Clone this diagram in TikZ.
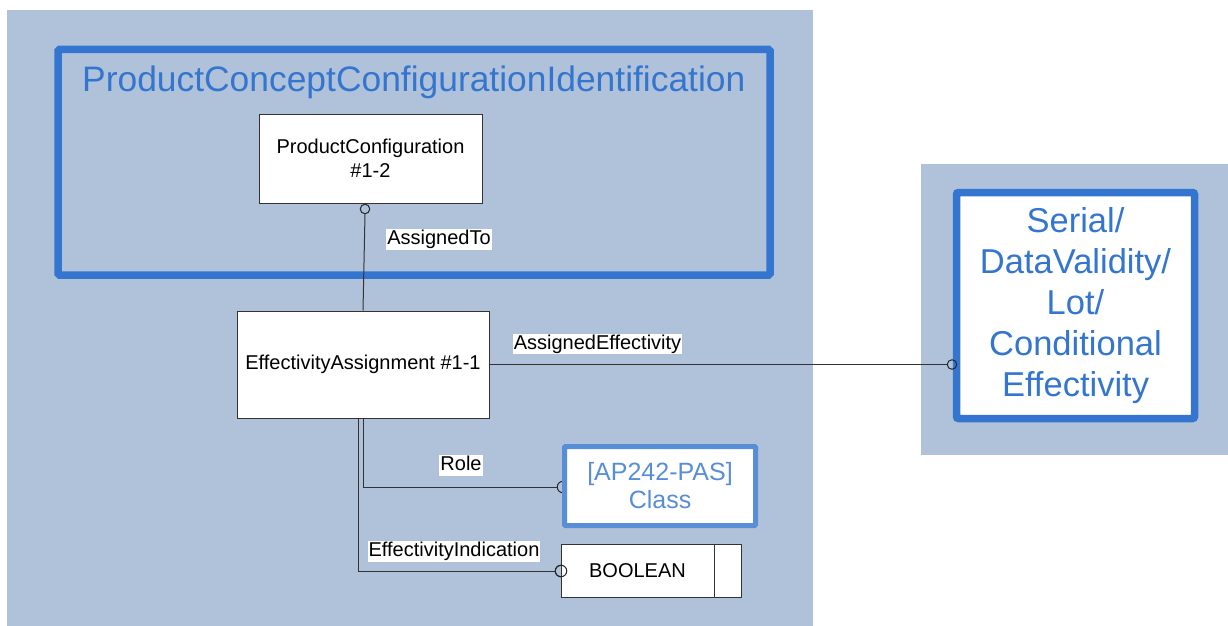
\documentclass[tikz,border=0pt]{standalone}
\usepackage{fontspec}
\setmainfont{Liberation Sans}
\definecolor{panelbg}{RGB}{176,194,218}
\definecolor{frameblue}{RGB}{52,118,207}
\definecolor{lightblue}{RGB}{88,141,216}
\begin{document}
\begin{tikzpicture}[x=1pt,y=-1pt,
  panel/.style={fill=panelbg,draw=none},
  bigframe/.style={draw=frameblue,line width=7.5pt,rounded corners=1.5pt},
  entity/.style={draw=black!80,line width=1pt,fill=white,align=center,inner sep=0pt,
    font=\fontsize{20}{24}\selectfont},
  apbox/.style={draw=lightblue,line width=5pt,fill=white,align=center,inner sep=0pt,
    text=lightblue,font=\fontsize{25}{28}\selectfont,rounded corners=1pt},
  effbox/.style={draw=frameblue,line width=7.5pt,fill=white,align=center,inner sep=0pt,
    text=frameblue,font=\fontsize{34.5}{41}\selectfont,rounded corners=2pt},
  lbl/.style={fill=white,inner xsep=1pt,inner ysep=0pt,text height=15.5pt,text depth=5pt,
    font=\fontsize{20}{24}\selectfont},
  conn/.style={draw=black!80,line width=1pt},
  ring/.style={circle,draw=black!85,line width=1pt,minimum size=9.5pt,inner sep=0pt},
  bigring/.style={ring,minimum size=11.5pt}]
\path[use as bounding box] (0,0) rectangle (1228,626);
% panels
\path[panel] (7,10) rectangle (813,626);
\path[panel] (921,164) rectangle (1228,455);
% PCCI frame
\draw[bigframe] (58,49.5) rectangle (770,275);
\node[anchor=base west,inner sep=0pt,text=frameblue,font=\fontsize{35.4}{42}\selectfont]
  (title) at (82,92) {ProductConceptConfigurationIdentification};
% entities
\node[entity,minimum width=223pt,minimum height=89pt] (pc) at (370.5,158.5)
  {ProductConfiguration\\\#1-2};
\node[entity,minimum width=252pt,minimum height=107pt] (ea) at (363,364.5)
  {EffectivityAssignment \#1-1};
\node[effbox,minimum width=238pt,minimum height=226pt] (eff) at (1075.5,305.5)
  {Serial/\\DataValidity/\\Lot/\\Conditional\\Effectivity};
% rings
\node[ring] (r1) at (365,209) {};
\node[ring] (r2) at (952,364.5) {};
\node[bigring] (r3) at (563,487) {};
\node[bigring] (r4) at (561,571) {};
% connectors
\coordinate (eab) at ([xshift=-5pt]ea.south);
\draw[conn] (ea.north) -- (r1.south);
\draw[conn] (ea.east) -- (r2.west);
\draw[conn] (ea.south) |- (r3.west);
\draw[conn] (eab) |- (r4.west);
% class box and boolean
\node[apbox,minimum width=191pt,minimum height=79pt] (ap) at (660,486)
  {[AP242-PAS]\\Class};
\node[entity,minimum width=180pt,minimum height=53pt,anchor=west] (bool) at (561,570.5) {};
\draw[conn] ([xshift=153pt]bool.north west) -- ([xshift=153pt]bool.south west);
\node[font=\fontsize{20}{24}\selectfont,inner sep=0pt] (boolt) at (637.5,570.5) {BOOLEAN};
\node[bigring] at (r4) {};
% labels
\node[lbl] (l1) at (439,239.5) {AssignedTo};
\node[lbl] (l2) at (597.5,344) {AssignedEffectivity};
\node[lbl] (l3) at (461,465.5) {Role};
\node[lbl] (l4) at (454,551.5) {EffectivityIndication};
\end{tikzpicture}
\end{document}
